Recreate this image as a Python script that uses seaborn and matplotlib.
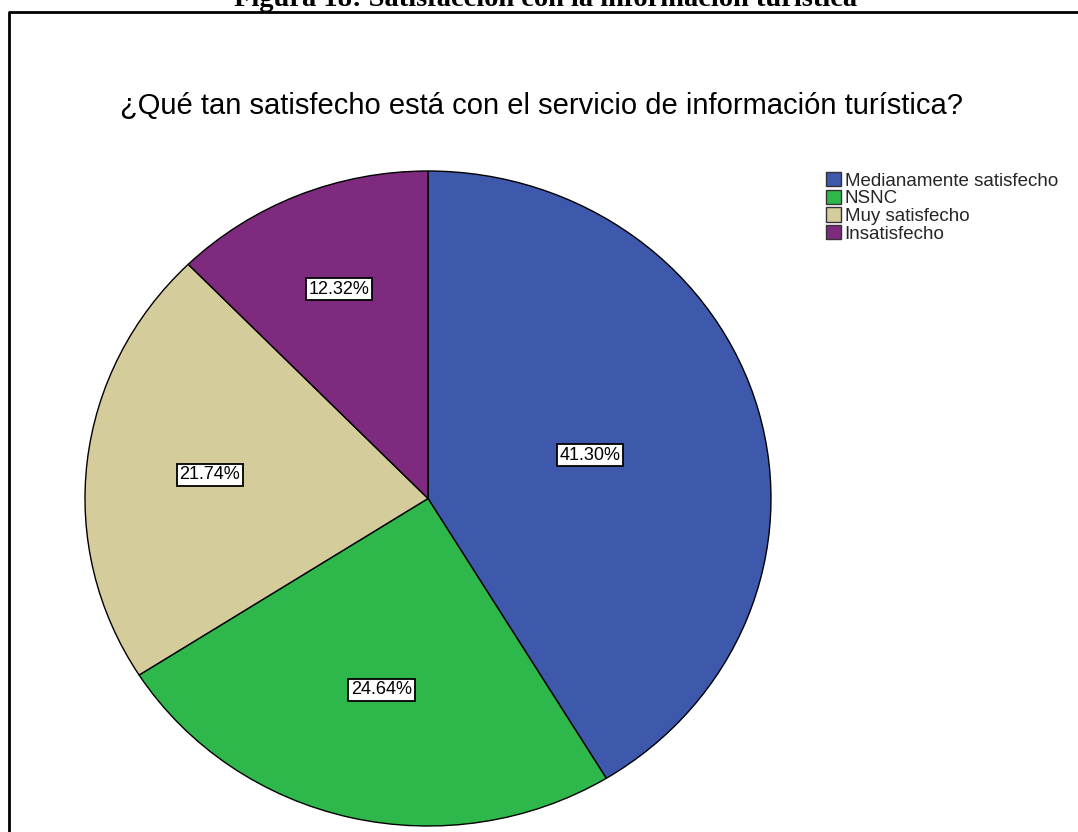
import matplotlib
matplotlib.use("Agg")
import matplotlib.pyplot as plt
import seaborn as sns
import numpy as np
from matplotlib.lines import Line2D

categories = ["Medianamente satisfecho", "NSNC", "Muy satisfecho", "Insatisfecho"]
percentages = [41.30, 24.64, 21.74, 12.32]
colors = ["#3E58AC", "#2EB84B", "#D5CC9C", "#7D2A7F"]
label_radius = [0.49, 0.60, 0.64, 0.69]

sns.set_theme(style="white")
plt.rcParams['font.family'] = ['Liberation Sans', 'DejaVu Sans']

W, H = 1078, 832
fig = plt.figure(figsize=(W / 100, H / 100), dpi=100)
fig.patch.set_facecolor("white")

# pie axes (slightly elliptical like the reference)
px0, px1, py0, py1 = 85, 771, 171, 826
ax = fig.add_axes([px0 / W, 1 - py1 / H, (px1 - px0) / W, (py1 - py0) / H])
wedges, _ = ax.pie(percentages, colors=colors, startangle=90, counterclock=False,
                   wedgeprops=dict(edgecolor="black", linewidth=1.0), radius=1.0)
ax.set_aspect("auto")
ax.set_xlim(-1, 1)
ax.set_ylim(-1, 1)
ax.axis("off")
for w in wedges:
    w.set_clip_on(False)

for w, p, r in zip(wedges, percentages, label_radius):
    ang = np.deg2rad((w.theta1 + w.theta2) / 2)
    ax.text(r * np.cos(ang), r * np.sin(ang), f"{p:.2f}%", ha="center", va="center",
            fontsize=13, color="black",
            bbox=dict(boxstyle="square,pad=0.15", facecolor="white", edgecolor="black", linewidth=1.3))

# chart title
fig.text(541 / W, 1 - 106 / H, "¿Qué tan satisfecho está con el servicio de información turística?",
         ha="center", va="center", fontsize=21, color="black")

# legend
handles = [plt.Rectangle((0, 0), 1, 1, facecolor=c, edgecolor="#333333", linewidth=1) for c in colors]
fig.legend(handles, categories, loc="upper left", bbox_to_anchor=(826 / W, 1 - 172 / H),
           frameon=False, fontsize=13.5, handlelength=0.8, handleheight=0.8,
           handletextpad=0.2, labelspacing=0.0, borderpad=0, borderaxespad=0)

# figure caption (cut off at top, as in the reference)
fig.text(546 / W, 1 - 6 / H, "Figura 18: Satisfacción con la información turística",
         ha="center", va="baseline", fontsize=20.5, fontweight="bold",
         family=["Liberation Serif", "DejaVu Serif"], color="black")

# frame (top and left edges)
fig.add_artist(Line2D([9 / W, 9 / W, 1.0], [0.0, 1 - 12 / H, 1 - 12 / H],
                      transform=fig.transFigure, color="black", linewidth=2))

fig.savefig("out.png", dpi=100, facecolor="white")
